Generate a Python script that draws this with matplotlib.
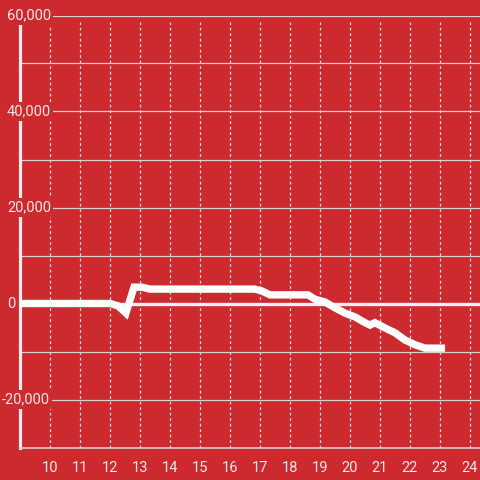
import matplotlib
matplotlib.use("Agg")
import matplotlib.pyplot as plt

plt.rcParams['font.family'] = ['Roboto', 'DejaVu Sans']

# hour of day vs value
hours = [9.0, 12.0, 12.27, 12.53, 12.8, 13.07, 13.33, 16.83, 17.07, 17.33,
         18.6, 18.83, 19.17, 19.5, 19.83, 20.17, 20.5, 20.67, 20.83, 21.17,
         21.5, 21.83, 22.17, 22.5, 23.17]
values = [0, 0, -500, -2000, 3400, 3400, 3000, 3000, 2600, 1800,
          1800, 900, 300, -900, -2000, -2800, -4000, -4500, -4000, -5100,
          -6100, -7600, -8600, -9300, -9300]

x_ticks = list(range(10, 25))
y_grid = [-20000, -10000, 10000, 20000, 30000, 40000, 50000, 60000]
y_labels = [60000, 40000, 20000, 0, -20000]

bg = '#cc2a2f'
txt = '#f0e6e6'

fig = plt.figure(figsize=(4.8, 4.8), dpi=100, facecolor=bg)
ax = fig.add_axes([20 / 480, 32.5 / 480, 460 / 480, 432 / 480])
ax.set_facecolor(bg)
ax.set_xlim(9, 9 + 460 / 30)
ax.set_ylim(-30000, 60000)

# dashed verticals stop a little below the top line
for v in x_ticks:
    ax.axvline(v, ymax=0.985, color='#e6dcdc', lw=0.9, ls=(0, (2.2, 2.2)), zorder=1)
for v in y_grid:
    ax.axhline(v, color='#d9d0d0', lw=0.9, zorder=1)
ax.axhline(0, color='#f2eeee', lw=2.4, zorder=2)

ax.plot(hours, values, color='white', lw=5.3, solid_joinstyle='miter',
        solid_capstyle='butt', zorder=4)

for s in ['top', 'right']:
    ax.spines[s].set_visible(False)
ax.spines['left'].set_color('#f2eeee')
ax.spines['left'].set_linewidth(2.3)
ax.spines['bottom'].set_color('#d9d0d0')
ax.spines['bottom'].set_linewidth(1.2)

ax.set_xticks(x_ticks)
ax.set_xticklabels([str(v) for v in x_ticks])
ax.tick_params(axis='x', length=0, pad=10, labelsize=10.5, labelcolor=txt)
ax.set_yticks([])

ytr = ax.get_yaxis_transform()
for v in y_labels:
    s = f'{v:,}'
    px = 2 if v < 0 else 7
    ax.text((px - 20) / 460, v, s, transform=ytr, ha='left', va='center',
            fontsize=10.5, color=txt, clip_on=False, zorder=6,
            bbox=dict(boxstyle='square,pad=0.15', fc=bg, ec='none'))

fig.savefig('out.png', dpi=100, facecolor=bg)
